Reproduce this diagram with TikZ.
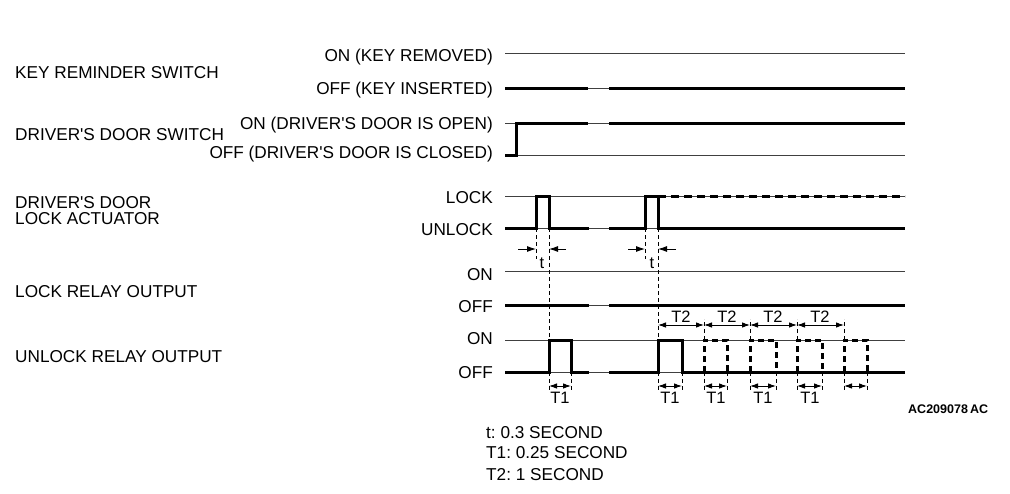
\documentclass[tikz,border=0pt]{standalone}
\usepackage{fontspec}
\setmainfont{Liberation Sans}
\usetikzlibrary{arrows.meta}
\frenchspacing
\begin{document}
\begin{tikzpicture}[x=1pt,y=-1pt,
  thinline/.style={line width=1pt,black!75},
  thickline/.style={line width=3pt,black,line join=miter},
  dthick/.style={line width=3pt,black,dash pattern=on 8pt off 5pt},
  guide/.style={line width=0.9pt,black,dash pattern=on 4pt off 3pt},
  dimarrow/.style={line width=0.9pt,black,-{Latex[length=9pt,width=6pt]}},
  dimboth/.style={line width=0.9pt,black,{Latex[length=8pt,width=5.5pt]}-{Latex[length=8pt,width=5.5pt]}},
  lbl/.style={inner sep=0pt,font=\fontsize{17.2}{20}\selectfont},
  sm/.style={inner sep=0pt,font=\fontsize{16.5}{18}\selectfont}]
\useasboundingbox (0,0) rectangle (1010,493);
\fill[white] (0,0) rectangle (1010,493);

% thin reference lines
\foreach \yy in {53,88,123,155,196,228,271,305,340,372}
  \draw[thinline] (505,\yy) -- (905,\yy);

% left labels
\node[lbl,anchor=base west] (krs) at (15,78) {KEY REMINDER SWITCH};
\node[lbl,anchor=base west] (dds) at (15,140) {DRIVER\textquotesingle S DOOR SWITCH};
\node[lbl,anchor=base west] (dda) at (15,208) {DRIVER\textquotesingle S DOOR};
\node[lbl,anchor=base west] (dda2) at (15,224) {LOCK ACTUATOR};
\node[lbl,anchor=base west] (lro) at (15,297) {LOCK RELAY OUTPUT};
\node[lbl,anchor=base west] (uro) at (15,362) {UNLOCK RELAY OUTPUT};

% state labels
\node[lbl,anchor=base east] (s1) at (493,61) {ON (KEY REMOVED)};
\node[lbl,anchor=base east] (s2) at (493,94) {OFF (KEY INSERTED)};
\node[lbl,anchor=base east] (s3) at (493,129) {ON (DRIVER\textquotesingle S DOOR IS OPEN)};
\node[lbl,anchor=base east] (s4) at (493,158) {OFF (DRIVER\textquotesingle S DOOR IS CLOSED)};
\node[lbl,anchor=base east] (s5) at (493,203) {LOCK};
\node[lbl,anchor=base east] (s6) at (493,235) {UNLOCK};
\node[lbl,anchor=base east] (s7) at (493,280) {ON};
\node[lbl,anchor=base east] (s8) at (493,312) {OFF};
\node[lbl,anchor=base east] (s9) at (493,344) {ON};
\node[lbl,anchor=base east] (s10) at (493,378) {OFF};

% key reminder switch
\draw[thickline] (505,88) -- (588,88);
\draw[thickline] (609,88) -- (905,88);
% driver's door switch
\draw[thickline] (505,155) -- (516,155) -- (516,123) -- (588,123);
\draw[thickline] (609,123) -- (905,123);
% door lock actuator
\draw[thickline] (505,228) -- (536,228) -- (536,196) -- (549,196) -- (549,228) -- (589,228);
\draw[thickline] (609,228) -- (645,228) -- (645,196) -- (658,196) -- (658,228) -- (905,228);
\draw[dthick] (658,196) -- (905,196);
% lock relay output
\draw[thickline] (505,305) -- (589,305);
\draw[thickline] (609,305) -- (905,305);
% unlock relay output
\draw[thickline] (505,372) -- (549,372) -- (549,340) -- (571,340) -- (571,372) -- (589,372);
\draw[thickline] (609,372) -- (658,372) -- (658,340) -- (682,340) -- (682,372) -- (905,372);
\foreach \a/\b in {704/727,750/776,797/822,844/867}
  \draw[dthick,dash pattern=on 6pt off 4pt] (\a,372) -- (\a,340) -- (\b,340) -- (\b,372);

% guide lines
\draw[guide] (536,228) -- (536,259);
\draw[guide] (549,228) -- (549,340);
\draw[guide] (645,228) -- (645,259);
\draw[guide] (658,228) -- (658,340);
\foreach \xx in {549,571,658,682,704,727,750,776,797,822,844,867}
  \draw[guide] (\xx,372) -- (\xx,391);
\foreach \xx in {704,750,797,844}
  \draw[guide] (\xx,340) -- (\xx,319);

% t arrows
\coordinate (ta1) at (518,249); \coordinate (ta2) at (536,249);
\coordinate (tb1) at (566,249); \coordinate (tb2) at (549,249);
\coordinate (tc1) at (628,249); \coordinate (tc2) at (645,249);
\coordinate (td1) at (676,249); \coordinate (td2) at (658,249);
\draw[dimarrow] (ta1) -- (ta2);
\draw[dimarrow] (tb1) -- (tb2);
\draw[dimarrow] (tc1) -- (tc2);
\draw[dimarrow] (td1) -- (td2);
\node[sm,anchor=base] (tl1) at (542,268) {t};
\node[sm,anchor=base] (tl2) at (652,268) {t};

% T2 arrows
\foreach \a/\b/\m in {658/704/681,704/750/727,750/797/773,797/844/820}{
  \draw[dimboth] (\a,325) -- (\b,325);
  \node[sm,anchor=base] at (\m,322) {T2};
}
% T1 arrows
\foreach \a/\b in {549/571,658/682,704/727,750/776,797/822,844/867}
  \draw[dimboth] (\a,386) -- (\b,386);
\foreach \m in {560,670,716,763,810}
  \node[sm,anchor=base] at (\m,403) {T1};

% legend
\node[lbl,anchor=base west] (lg1) at (486,438) {t: 0.3 SECOND};
\node[lbl,anchor=base west] (lg2) at (486,458) {T1: 0.25 SECOND};
\node[lbl,anchor=base west] (lg3) at (486,480) {T2: 1 SECOND};
\node[inner sep=0pt,anchor=base west,font=\fontsize{12.5}{14}\selectfont\bfseries] (code) at (908,413) {AC209078\,AC};
\end{tikzpicture}
\end{document}
